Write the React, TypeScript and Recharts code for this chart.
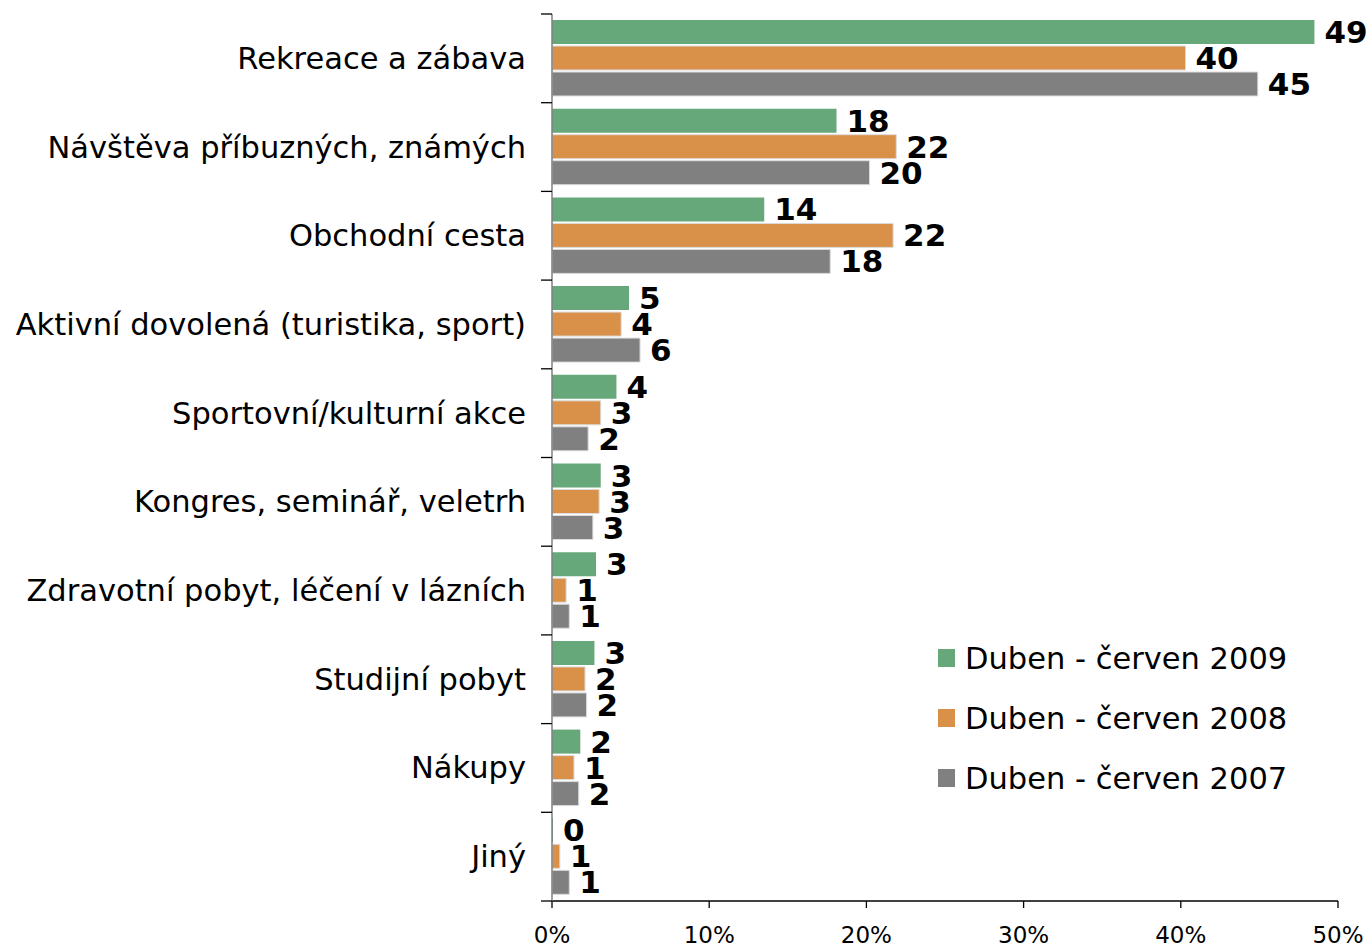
import { BarChart, Bar, XAxis, YAxis, LabelList, Legend } from "recharts";

const CATEGORIES = [
  "Rekreace a zábava",
  "Návštěva příbuzných, známých",
  "Obchodní cesta",
  "Aktivní dovolená (turistika, sport)",
  "Sportovní/kulturní akce",
  "Kongres, seminář, veletrh",
  "Zdravotní pobyt, léčení v lázních",
  "Studijní pobyt",
  "Nákupy",
  "Jiný",
];
const SERIES_NAMES = ["Duben - červen 2009", "Duben - červen 2008", "Duben - červen 2007"];
const Y2009 = [48.5, 18.1, 13.5, 4.9, 4.1, 3.1, 2.8, 2.7, 1.8, 0.0];
const Y2008 = [40.3, 21.9, 21.7, 4.4, 3.1, 3.0, 0.9, 2.1, 1.4, 0.5];
const Y2007 = [44.9, 20.2, 17.7, 5.6, 2.3, 2.6, 1.1, 2.2, 1.7, 1.1];
const X_TICKS = [0, 10, 20, 30, 40, 50];
const COLORS = ["#66a87a", "#d9914a", "#808080"];

const data = CATEGORIES.map((c, i) => ({ name: c, a: Y2009[i], b: Y2008[i], c: Y2007[i] }));

const FONT = "'DejaVu Sans', Verdana, sans-serif";

// category label + boundary tick marks (ticks sit between categories, not at centers)
const CategoryTick = (props: any) => {
  const { x, y, payload, index } = props;
  const half = payload.offset ?? 0;
  const last = index === CATEGORIES.length - 1;
  return (
    <g>
      <line x1={x + 15} x2={x + 26} y1={y - half} y2={y - half} stroke="#000" strokeWidth={1.3} />
      {last && <line x1={x + 15} x2={x + 26} y1={y + half} y2={y + half} stroke="#000" strokeWidth={1.3} />}
      <text x={x} y={y} textAnchor="end" dominantBaseline="central" fontSize={30.5} fill="#000" fontFamily={FONT}>
        {payload.value}
      </text>
    </g>
  );
};

const renderLegend = (props: any) => {
  const items = [...props.payload].sort(
    (p: any, q: any) => SERIES_NAMES.indexOf(p.value) - SERIES_NAMES.indexOf(q.value)
  );
  return (
    <div style={{ fontFamily: FONT, fontSize: 30.5, color: "#000" }}>
      {items.map((e: any) => (
        <div key={e.value} style={{ display: "flex", alignItems: "center", height: 60 }}>
          <span style={{ display: "inline-block", width: 17, height: 18, background: e.color, marginRight: 10 }} />
          <span>{e.value}</span>
        </div>
      ))}
    </div>
  );
};

const labelProps = {
  position: "right" as const,
  offset: 10,
  formatter: (v: any) => String(Math.round(Number(v))),
  style: { fontSize: 31, fontWeight: "bold", fill: "#000", fontFamily: FONT },
};

export default function App() {
  return (
    <div style={{ position: "absolute", left: 0, top: 0, background: "#fff", fontFamily: FONT }}>
      <BarChart
        width={1367}
        height={947}
        data={data}
        layout="vertical"
        margin={{ top: 14, right: 29, bottom: 0, left: 0 }}
        barCategoryGap={6}
        barGap={2}
      >
        <XAxis
          type="number"
          domain={[0, 50]}
          ticks={X_TICKS}
          tickFormatter={(v) => `${v}%`}
          tick={{ fontSize: 23, fill: "#000", fontFamily: FONT }}
          axisLine={{ stroke: "#000", strokeWidth: 1.3 }}
          tickLine={{ stroke: "#000", strokeWidth: 1.3 }}
          tickSize={7}
          tickMargin={19}
          height={46}
        />
        <Legend
          layout="vertical"
          align="center"
          verticalAlign="middle"
          content={renderLegend}
          wrapperStyle={{ left: 938, top: 628, width: 420 }}
        />
        {/* minPointSize keeps the zero bar (and its "0" label) in the list */}
        <Bar dataKey="a" name={SERIES_NAMES[0]} fill={COLORS[0]} stroke="none" minPointSize={1} isAnimationActive={false}>
          <LabelList dataKey="a" {...labelProps} />
        </Bar>
        <Bar dataKey="b" name={SERIES_NAMES[1]} fill={COLORS[1]} stroke="#dcdcdc" strokeWidth={1} isAnimationActive={false}>
          <LabelList dataKey="b" {...labelProps} />
        </Bar>
        <Bar dataKey="c" name={SERIES_NAMES[2]} fill={COLORS[2]} stroke="#dcdcdc" strokeWidth={1} isAnimationActive={false}>
          <LabelList dataKey="c" {...labelProps} />
        </Bar>
        <YAxis
          type="category"
          dataKey="name"
          width={552}
          tick={<CategoryTick />}
          tickLine={false}
          tickSize={11}
          tickMargin={15}
          axisLine={{ stroke: "#808080", strokeWidth: 1.5 }}
          interval={0}
        />
      </BarChart>
    </div>
  );
}
